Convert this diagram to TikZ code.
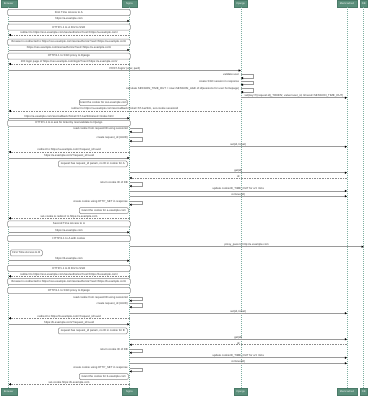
\documentclass[tikz,border=0pt]{standalone}
\usepackage{fontspec}
\setmainfont{Liberation Sans}
\usetikzlibrary{arrows.meta}
\definecolor{partfill}{HTML}{5B8F7B}
\definecolor{partdraw}{HTML}{4A7A68}
\definecolor{lifec}{HTML}{7FB0A2}
\definecolor{msgc}{HTML}{9A9A9A}
\definecolor{retc}{HTML}{8C8C8C}
\definecolor{notec}{HTML}{8A8A8A}
\newcounter{lblc}
\tikzset{
  part/.style={draw=partdraw, fill=partfill, text=white, font=\fontsize{2.6pt}{3pt}\selectfont, minimum height=6.7pt, inner sep=0pt, line width=0.4pt},
  life/.style={draw=lifec, line width=0.55pt, dash pattern=on 1pt off 1pt},
  msgline/.style={draw=msgc, line width=0.7pt, -{Triangle[length=2.2pt,width=2.2pt,color=black]}},
  retline/.style={draw=retc, line width=0.6pt, dash pattern=on 1.6pt off 1pt, -{Triangle[length=2.2pt,width=2.2pt,color=black]}},
  lab/.style={font=\fontsize{2.8pt}{3pt}\selectfont, text=black!80, inner sep=0.3pt},
  notebox/.style={draw=notec, fill=white, line width=0.5pt, rounded corners=1.2pt, inner sep=0pt, anchor=north west, font=\fontsize{2.8pt}{3pt}\selectfont, text=black!80},
}
\newcommand\smsg[4]{\stepcounter{lblc}\draw[msgline] (#1|-0,#3) -- node[lab, above] (L\arabic{lblc}) {#4} (#2|-0,#3);}
\newcommand\rmsg[4]{\stepcounter{lblc}\draw[retline] (#1|-0,#3) -- node[lab, above] (L\arabic{lblc}) {#4} (#2|-0,#3);}
\newcommand\selfc[3]{\stepcounter{lblc}\draw[msgline] (#1|-0,#2) -- ++(13,0) -- ++(0,3.4) -- ++(-13,0);
  \node[lab, anchor=east, xshift=-1.2pt] (L\arabic{lblc}) at (#1|-0,#2) {#3};}
\newcommand\notec[4]{\stepcounter{lblc}\node[notebox, minimum width={(#2-#1)*1pt}, minimum height=6pt] (L\arabic{lblc}) at (#1,#3) {#4};}
\begin{document}
\begin{tikzpicture}[x=1pt,y=-1pt]
\useasboundingbox (0,0) rectangle (368,396);
% participants
\node[part, minimum width=16pt] (B) at (8.7,3.4) {Browser};
\node[part, minimum width=15pt] (N) at (129.5,3.4) {Nginx};
\node[part, minimum width=13.7pt] (D) at (240.8,3.4) {Django};
\node[part, minimum width=20.6pt] (M) at (347,3.4) {Memcached};
\node[part, minimum width=7.3pt] (X) at (363.7,3.4) {DB};
\node[part, minimum width=16pt] (B2) at (8.7,391.7) {Browser};
\node[part, minimum width=15pt] (N2) at (129.5,391.7) {Nginx};
\node[part, minimum width=13.7pt] (D2) at (240.8,391.7) {Django};
\node[part, minimum width=20.6pt] (M2) at (347,391.7) {Memcached};
\node[part, minimum width=7.3pt] (X2) at (363.7,391.7) {DB};
% lifelines
\draw[life] (B) -- (B2);
\draw[life] (N) -- (N2);
\draw[life] (D) -- (D2);
\draw[life, line width=0.9pt] (M) -- (M2);
\draw[life] (X) -- (X2);
% ---- first access to A
\notec{7.3}{130}{9.3}{First Time Access to A}
\smsg{B}{N}{21}{https://a.example.com}
\notec{7.3}{130}{24}{HTTP/1.1 to A 302 to SSO}
\rmsg{N}{B}{35}{redirect to https://sso.example.com/sso/authorize?next=https://a.example.com/}
\notec{7.3}{130}{39}{Browser is redirected to https://sso.example.com/sso/authorize?next=https://a.example.com/}
\smsg{B}{N}{50}{https://sso.example.com/sso/authorize?next=https://a.example.com/}
\notec{7.3}{130}{53}{HTTP/1.1 to SSO proxy to Django}
\rmsg{N}{B}{64}{200 login page of https://sso.example.com/login/?next=https://a.example.com/}
\smsg{B}{D}{70.5}{POST /login/ (user, pwd)}
\selfc{D}{74.7}{validate user}
\selfc{D}{81.3}{create SSO session in response}
\selfc{D}{88.7}{calculate SESSION\_TIME\_OUT = now+SESSION\_AGE of id(sessions for user homepage)}
\smsg{D}{M}{97.7}{set(key=f'\{request.id\}\_TOKEN', value=user\_id, timeout=SESSION\_TIME\_OUT)}
\notec{79}{127}{99.3}{Grant the cookie for sso.example.com}
\rmsg{D}{B}{111}{redirect to https://a.example.com/sso/callback?ticket=ST-1a2b3c, set-cookie sessionid}
\smsg{B}{N}{118.3}{https://a.example.com/sso/callback?ticket=ST-1a2b3c\&next=/index.html}
\notec{7.3}{130}{120}{HTTP/1.1 to A ask for ticket by /sso/validate to Django}
\selfc{N}{128.5}{read cookie from request/ID using sessionid}
\selfc{N}{137.7}{create request\_id (UUID)}
\smsg{N}{M}{146.7}{set(id, ticket)}
\rmsg{N}{B}{152}{redirect to https://a.example.com/?request\_id=uuid}
\smsg{B}{N}{158}{https://a.example.com/?request\_id=uuid}
\notec{58}{127}{160.7}{request has request\_id param, no ID in cookie for A}
\smsg{N}{M}{172.7}{get(id)}
\rmsg{M}{N}{178}{id}
\selfc{N}{182.7}{return cookie ID of DB}
\smsg{N}{M}{191}{update cookieID\_TIME\_OUT for a 5 mins}
\smsg{N}{M}{196.3}{remove(id)}
\selfc{N}{201.3}{create cookie using HTTP\_SET in response}
\notec{79}{128}{207.3}{Grant the cookie for a.example.com}
\rmsg{N}{B}{218.3}{set-cookie \& redirect to https://a.example.com}
% ---- second access to A
\notec{7.3}{130}{220.7}{Second Time Access to A}
\smsg{B}{N}{232.3}{https://a.example.com}
\notec{7.3}{130}{235.3}{HTTP/1.1 to A with cookie}
\smsg{N}{X}{246.7}{proxy\_pass to http://a.example.com}
% ---- first access to B
\notec{10}{42}{249.7}{First Time Access to B}
\smsg{B}{N}{260.7}{https://b.example.com}
\notec{7.3}{130}{265}{HTTP/1.1 to B 302 to SSO}
\rmsg{N}{B}{276.3}{redirect to https://sso.example.com/sso/authorize?next=https://b.example.com/}
\notec{7.3}{130}{278.3}{Browser is redirected to https://sso.example.com/sso/authorize?next=https://b.example.com/}
\notec{7.3}{130}{287.3}{HTTP/1.1 to SSO proxy to Django}
\selfc{N}{297.3}{read cookie from request/ID using sessionid}
\selfc{N}{303.7}{create request\_id (UUID)}
\smsg{N}{M}{313.3}{set(id, ticket)}
\rmsg{N}{B}{318.3}{redirect to https://b.example.com/?request\_id=uuid}
\smsg{B}{N}{324.3}{https://b.example.com/?request\_id=uuid}
\notec{58}{127}{327.7}{request has request\_id param, no ID in cookie for B}
\smsg{N}{M}{339.3}{get(id)}
\rmsg{M}{N}{344.7}{id}
\selfc{N}{349.3}{return cookie ID of DB}
\smsg{N}{M}{357.7}{update cookieID\_TIME\_OUT for a 5 mins}
\smsg{N}{M}{363.3}{remove(id)}
\selfc{N}{368}{create cookie using HTTP\_SET in response}
\notec{79}{128}{373.3}{Grant the cookie for b.example.com}
\rmsg{N}{B}{384.3}{set-cookie https://b.example.com}
\end{tikzpicture}
\end{document}
